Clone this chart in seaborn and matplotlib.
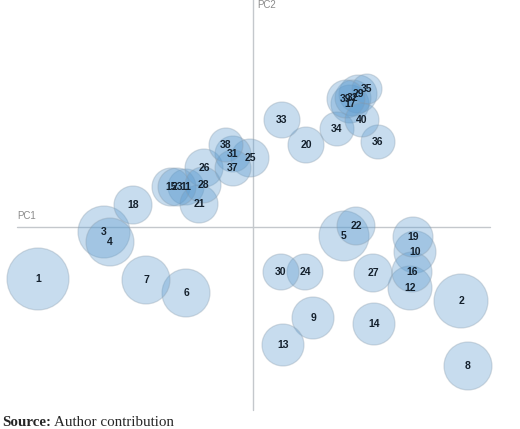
import pandas as pd
import seaborn as sns
import matplotlib.pyplot as plt

# Dados (PC1, PC2 e raio da bolha)
labels = ['1', '2', '3', '4', '5', '6', '7', '8', '9', '10',
          '11', '12', '13', '14', '15', '16', '17', '18', '19', '20',
          '21', '22', '23', '24', '25', '26', '27', '28', '29', '30',
          '31', '32', '33', '34', '35', '36', '37', '38', '39', '40']
pc1 = [-4.30, 4.16, -2.98, -2.86, 1.82, -1.34, -2.14, 4.30, 1.20, 3.24,
       -1.34, 3.14, 0.60, 2.42, -1.64, 3.18, 1.94, -2.40, 3.20, 1.06,
       -1.08, 2.06, -1.52, 1.04, -0.06, -0.98, 2.40, -1.00, 2.10, 0.56,
       -0.40, 2.00, 0.58, 1.68, 2.28, 2.50, -0.40, -0.54, 1.86, 2.18]
pc2 = [-1.04, -1.48, -0.10, -0.30, -0.18, -1.32, -1.06, -2.78, -1.82, -0.50,
       0.80, -1.22, -2.36, -1.94, 0.80, -0.90, 2.46, 0.44, -0.20, 1.64,
       0.46, 0.02, 0.80, -0.90, 1.38, 1.18, -0.92, 0.84, 2.66, -0.90,
       1.46, 2.58, 2.14, 1.96, 2.76, 1.70, 1.18, 1.64, 2.56, 2.14]
raio = [31, 27, 26, 24, 25, 24, 24, 24, 21, 21,
        18, 22, 21, 21, 19, 20, 19, 19, 20, 18,
        19, 19, 19, 18, 19, 19, 19, 18, 19, 18,
        18, 18, 18, 17, 15, 17, 18, 17, 19, 17]

df = pd.DataFrame({'id': labels, 'pc1': pc1, 'pc2': pc2, 'raio': raio})
df['s'] = (1.44 * df['raio']) ** 2

sns.set_style('white')
fig = plt.figure(figsize=(5.2, 4.29), dpi=100)
ax = fig.add_axes([0, 0, 1, 1])

sns.scatterplot(data=df, x='pc1', y='pc2', s=df['s'], color='#5b9bd0', alpha=0.34,
                edgecolor='#8c9dac', linewidth=0.9, ax=ax, legend=False, zorder=3)

for _, row in df.iterrows():
    ax.text(row['pc1'], row['pc2'], row['id'], ha='center', va='center', fontsize=7.5,
            fontweight='bold', family='Liberation Sans', color='#14202c', zorder=5)

# eixos PC1 / PC2
ax.plot([-4.72, 4.74], [0, 0], color='#c4c8cc', lw=1, zorder=1)
ax.plot([0, 0], [-3.66, 4.6], color='#c4c8cc', lw=1, zorder=1)
ax.text(-4.72, 0.12, 'PC1', fontsize=7, color='#8a8a8a', family='Liberation Sans', va='bottom')
ax.text(0.08, 4.44, 'PC2', fontsize=7, color='#8a8a8a', family='Liberation Sans', va='center')

ax.set_xlim(-253 / 50, 267 / 50)
ax.set_ylim(-202 / 50, 227 / 50)
ax.axis('off')

t1 = fig.text(0.004, 0.008, 'Source:', fontsize=10.8, fontweight='bold', family='Liberation Serif')
fig.canvas.draw()
bb = t1.get_window_extent()
fig.text(bb.x1 / fig.bbox.width + 0.006, 0.008, 'Author contribution', fontsize=10.8,
         family='Liberation Serif')

fig.savefig('out.png', dpi=100)
